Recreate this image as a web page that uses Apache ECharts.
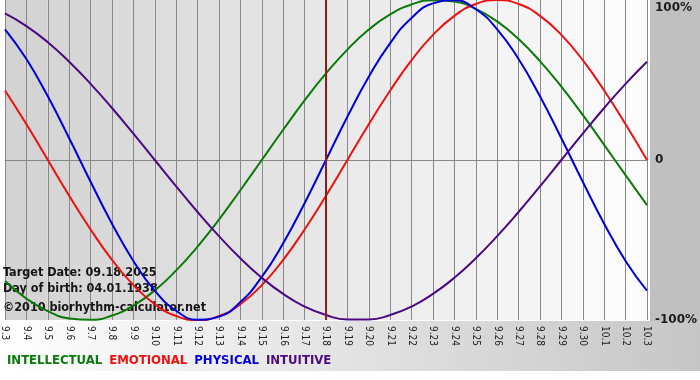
<!DOCTYPE html>
<html>
<head>
<meta charset="utf-8">
<script src="https://cdn.jsdelivr.net/npm/echarts@6/dist/echarts.min.js"></script>
<style>
html,body{margin:0;padding:0;background:#ffffff;}
#chart{width:700px;height:380px;}
</style>
</head>
<body>
<div id="chart"></div>
<script>
const categories = ['9.3','9.4','9.5','9.6','9.7','9.8','9.9','9.10','9.11','9.12','9.13','9.14','9.15','9.16','9.17','9.18','9.19','9.20','9.21','9.22','9.23','9.24','9.25','9.26','9.27','9.28','9.29','9.30','10.1','10.2','10.3'];
const intellectual = [-75.6,-86.6,-94.5,-99.0,-99.9,-97.2,-91.0,-81.5,-69.0,-54.1,-37.2,-18.9,0,18.9,37.2,54.1,69.0,81.5,91.0,97.2,99.9,99.0,94.5,86.6,75.6,61.8,45.8,28.2,9.5,-9.5,-28.2];
const emotional = [43.4,22.3,0,-22.3,-43.4,-62.4,-78.2,-90.1,-97.5,-100,-97.5,-90.1,-78.2,-62.4,-43.4,-22.3,0,22.3,43.4,62.4,78.2,90.1,97.5,100,97.5,90.1,78.2,62.4,43.4,22.3,0];
const physical = [81.7,63.1,39.8,13.6,-13.6,-39.8,-63.1,-81.7,-94.2,-99.8,-97.9,-88.8,-73.1,-52.0,-27.0,0,27.0,52.0,73.1,88.8,97.9,99.8,94.2,81.7,63.1,39.8,13.6,-13.6,-39.8,-63.1,-81.7];
const intuitive = [91.6,83.7,73.6,61.4,47.6,32.5,16.5,0,-16.5,-32.5,-47.6,-61.4,-73.6,-83.7,-91.6,-96.9,-99.7,-99.7,-96.9,-91.6,-83.7,-73.6,-61.4,-47.6,-32.5,-16.5,0,16.5,32.5,47.6,61.4];
const seriesNames = ['INTELLECTUAL','EMOTIONAL','PHYSICAL','INTUITIVE'];
const yTicks = [-100, 0, 100];
const yTickLabels = {'-100':'-100%','0':'0','100':'100%'};
const targetDay = '9.18';
const infoLines = ['Target Date: 09.18.2025','Day of birth: 04.01.1938','\u00a92010 biorhythm-calculator.net'];

const colors = ['#0b7a0b','#ee1111','#0000dd','#4b0a80'];
const dataSets = [intellectual, emotional, physical, intuitive];

// stepped column shading from gray to white
const colShades = [];
for (let i = 0; i < categories.length - 1; i++) {
  const v = Math.round(211 + (252 - 211) * i / (categories.length - 2));
  colShades.push('rgb(' + v + ',' + v + ',' + v + ')');
}

const chart = echarts.init(document.getElementById('chart'), null, {renderer:'canvas'});
const series = dataSets.map((d, k) => ({
  name: seriesNames[k],
  type: 'line',
  data: d,
  smooth: true,
  symbol: 'none',
  z: 3,
  lineStyle: {color: colors[k], width: 2},
  itemStyle: {color: colors[k]}
}));
series[0].markLine = {
  symbol: 'none',
  silent: true,
  animation: false,
  label: {show: false},
  lineStyle: {color: '#8b1c1c', width: 2, type: 'solid'},
  data: [{xAxis: targetDay}]
};

const option = {
  animation: false,
  backgroundColor: '#ffffff',
  grid: {left: 0, right: 50, top: 0, height: 320, containLabel: false},
  xAxis: {
    type: 'category',
    data: categories,
    boundaryGap: false,
    axisLine: {show: true, lineStyle: {color: '#888888', width: 1}},
    axisTick: {show: true, interval: 0, length: 4, lineStyle: {color: '#888888'}},
    axisLabel: {interval: 0, rotate: -90, margin: 6, fontSize: 10, color: '#222222', fontFamily: 'DejaVu Sans Condensed'},
    splitLine: {show: true, interval: 0, lineStyle: {color: '#888888', width: 1}},
    splitArea: {show: true, interval: 0, areaStyle: {color: colShades}}
  },
  yAxis: {
    type: 'value',
    position: 'right',
    min: yTicks[0],
    max: yTicks[2],
    interval: 100,
    axisLine: {show: false},
    axisTick: {show: false},
    axisLabel: {
      show: true, margin: 8, fontSize: 12, fontWeight: 'bold', color: '#1a1a1a', fontFamily: 'DejaVu Sans',
      verticalAlignMaxLabel: 'top', lineHeight: 16,
      formatter: v => yTickLabels[String(v)]
    },
    splitLine: {show: true, lineStyle: {color: ['rgba(0,0,0,0)', '#888888', 'rgba(0,0,0,0)'], width: 1}}
  },
  legend: {
    left: 2, top: 354, padding: 0,
    itemWidth: 0, itemHeight: 0, itemGap: 2,
    icon: 'none',
    selectedMode: false,
    textStyle: {fontSize: 13, fontWeight: 'bold', fontFamily: 'DejaVu Sans Condensed', padding: 0},
    data: seriesNames.map((n, k) => ({name: n, icon: 'none', textStyle: {color: colors[k]}}))
  },
  graphic: [
    {type: 'rect', z: -10, silent: true, shape: {x: 650, y: 0, width: 50, height: 321}, style: {fill: '#c0c0c0'}},
    {type: 'rect', z: -10, silent: true, shape: {x: 0, y: 321, width: 700, height: 50},
      style: {fill: new echarts.graphic.LinearGradient(0, 0, 1, 0, [{offset: 0, color: '#ffffff'}, {offset: 1, color: '#c6c6c6'}])}},
    ...infoLines.map((t, k) => ({
      type: 'text', z: 2, silent: true, left: 3, top: [266, 282, 301][k],
      style: {text: t, fill: '#151515', font: 'bold 12.5px "DejaVu Sans Condensed"'}
    }))
  ],
  series: series
};
chart.setOption(option);
</script>
</body>
</html>
